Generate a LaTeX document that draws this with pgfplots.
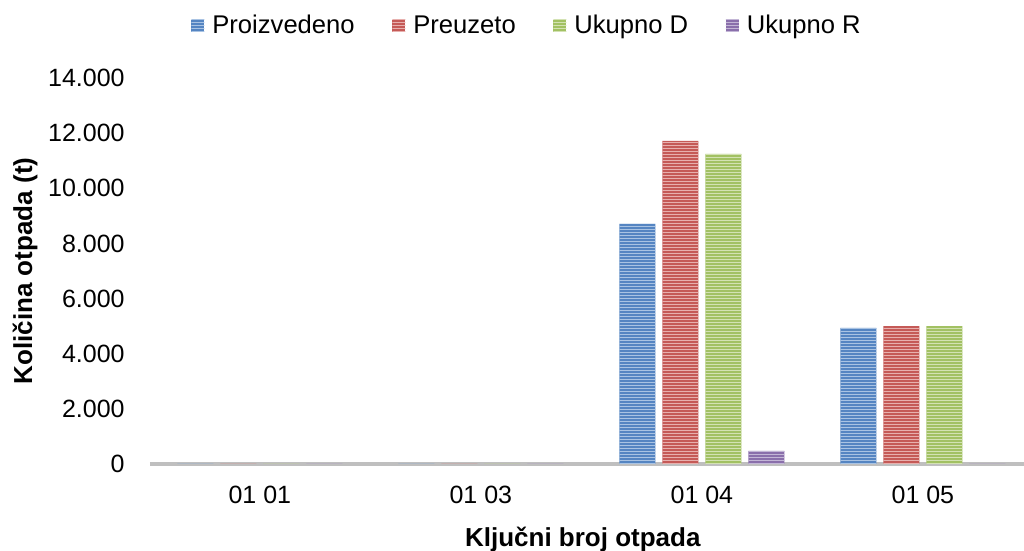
\documentclass[border=0pt]{standalone}
\usepackage{pgfplots}
\pgfplotsset{compat=1.18}
\usetikzlibrary{patterns}
\usepackage{fontspec}
\setmainfont{Liberation Sans}

\definecolor{cBlue}{HTML}{5585C2}
\definecolor{cBlueL}{HTML}{A9C3E3}
\definecolor{cRed}{HTML}{C55A57}
\definecolor{cRedL}{HTML}{E7B0AE}
\definecolor{cGreen}{HTML}{A2C163}
\definecolor{cGreenL}{HTML}{D3E2B3}
\definecolor{cPurple}{HTML}{8A6FAB}
\definecolor{cPurpleL}{HTML}{C3B6D6}
\definecolor{axisgray}{HTML}{BFBFBF}

% wide horizontal stripe tile, so no seams fall inside a bar
\pgfdeclarepatternformonly{hstripes}{\pgfpointorigin}{\pgfpoint{600pt}{1.5pt}}{\pgfpoint{600pt}{1.5pt}}{%
  \pgfpathrectangle{\pgfpoint{-1pt}{0pt}}{\pgfpoint{602pt}{0.6pt}}%
  \pgfusepath{fill}}

\tikzset{
  stripes/.style={postaction={pattern=hstripes, pattern color=#1}}
}

\begin{document}
\begin{tikzpicture}
\begin{axis}[
  name=ax,
  scale only axis,
  width=441.7pt, height=193pt,
  ybar=3.5pt, bar width=18pt,
  xmin=-0.497, xmax=3.5,
  ymin=0, ymax=14000,
  enlargelimits=false,
  xtick={0,1,2,3},
  xticklabels={01 01,01 03,01 04,01 05},
  ytick={0,2000,...,14000},
  scaled y ticks=false,
  /pgf/number format/1000 sep={.},
  /pgf/number format/assume math mode=true,
  major tick length=0pt,
  separate axis lines,
  axis x line*=bottom,
  axis y line*=left,
  x axis line style={-, draw=axisgray, line width=1.7pt},
  y axis line style={draw=none},
  ticklabel style={font=\fontsize{12.5}{15}\selectfont},
  yticklabel style={anchor=east, inner sep=0pt, xshift=-12.5pt},
  xticklabel style={anchor=base, inner sep=0pt, yshift=-20pt},
  xlabel={\textbf{Ključni broj otpada}},
  ylabel={\textbf{Količina otpada (t)}},
  every axis x label/.style={at={(rel axis cs:0.49,-0.215)}, anchor=base, font=\fontsize{13}{15}\selectfont},
  every axis y label/.style={at={(rel axis cs:-0.1415,0.5)}, rotate=90, anchor=center, font=\fontsize{13}{15}\selectfont},
  legend columns=4,
  legend style={at={(0,1)}, anchor=west, xshift=20.5pt, yshift=26pt,
    draw=none, fill=none, inner sep=0pt,
    nodes={inner sep=0pt},
    font=\fontsize{12.8}{15}\selectfont,
    /tikz/every even column/.append style={column sep=18.8pt}},
  legend cell align=left,
  legend image code/.code={\fill[#1] (0pt,-3pt) rectangle (6.5pt,3pt); \path (10.5pt,0pt);},
]
\addplot[fill=cBlue, draw=none, stripes=cBlueL] coordinates {(0,0) (1,0) (2,8705) (3,4933)};
\addplot[fill=cRed, draw=none, stripes=cRedL] coordinates {(0,0) (1,0) (2,11715) (3,5005)};
\addplot[fill=cGreen, draw=none, stripes=cGreenL] coordinates {(0,0) (1,0) (2,11244) (3,5005)};
\addplot[fill=cPurple, draw=none, stripes=cPurpleL] coordinates {(0,0) (1,0) (2,472) (3,0)};
\legend{Proizvedeno, Preuzeto, Ukupno D, Ukupno R}
\end{axis}
\pgfresetboundingbox
\path[use as bounding box] ([xshift=-75pt,yshift=-43.5pt]ax.south west) rectangle ([xshift=437pt,yshift=39pt]ax.north west);
\end{tikzpicture}
\end{document}
